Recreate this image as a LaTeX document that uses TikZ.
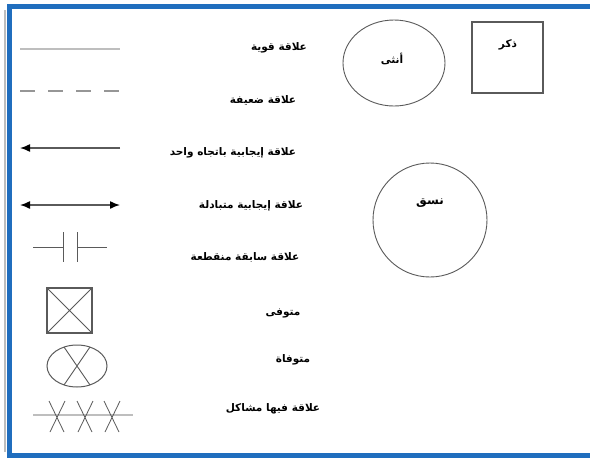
\documentclass[tikz,border=0pt]{standalone}
\usepackage{fontspec}
\newfontfamily\arabicfont[Script=Arabic]{DejaVu Sans}
\TeXXeTstate=1
\usetikzlibrary{arrows.meta}
\definecolor{framblue}{RGB}{32,110,190}
\definecolor{lightln}{RGB}{190,190,190}
\definecolor{midln}{RGB}{150,150,150}
\definecolor{darkln}{RGB}{90,90,90}
\tikzset{
  legendtxt/.style={inner sep=0pt, font=\arabicfont\bfseries\fontsize{10.5}{11}\selectfont},
  symtxt/.style={inner sep=0pt, font=\arabicfont\bfseries\fontsize{10.5}{11}\selectfont},
  symline/.style={draw=darkln, line width=1pt},
  tip/.tip={Latex[length=10pt,width=8pt,fill=black,color=black]},
  arrowln/.style={draw=darkln, line width=1.5pt},
}
\begin{document}
\begin{tikzpicture}[x=1pt,y=-1pt]
\useasboundingbox (0,0) rectangle (590,459);
% page frame
\fill[white] (0,0) rectangle (590,459);
\draw[lightln, line width=1.5pt] (5,10) -- (5,452);
\draw[framblue, line width=5pt] (595,6.5) -- (9.5,6.5) -- (9.5,455.5) -- (595,455.5);

% strong relation
\coordinate (s1) at (20,49); \coordinate (s2) at (120,49);
\draw[lightln, line width=2pt] (s1) -- (s2);
\node[legendtxt] (tstrong) at (279,48) {\beginR علاقة قوية\endR};

% weak relation
\coordinate (w1) at (20,91); \coordinate (w2) at (120,91);
\draw[midln, line width=2pt, dash pattern=on 15pt off 13pt] (w1) -- (w2);
\node[legendtxt] (tweak) at (263,100) {\beginR علاقة ضعيفة\endR};

% one-way positive relation
\coordinate (o1) at (120,148); \coordinate (o2) at (20,148);
\draw[arrowln, -tip] (o1) -- (o2);
\node[legendtxt] (toneway) at (233,153) {\beginR علاقة إيجابية باتجاه واحد\endR};

% mutual positive relation
\coordinate (m1) at (20,205); \coordinate (m2) at (120,205);
\draw[arrowln, tip-tip] (m1) -- (m2);
\node[legendtxt] (tmutual) at (251,206) {\beginR علاقة إيجابية متبادلة\endR};

% broken former relation
\coordinate (b1) at (33,247); \coordinate (b2) at (63,247);
\coordinate (b3) at (77,247); \coordinate (b4) at (107,247);
\draw[symline] (b1) -- (b2) (b2) ++(0,-15) -- ++(0,30)
  (b3) ++(0,-15) -- ++(0,30) (b3) -- (b4);
\node[legendtxt] (tbroken) at (245,257) {\beginR علاقة سابقة منقطعة\endR};

% deceased male
\node[draw=darkln, line width=1.3pt, minimum size=45pt, inner sep=0pt] (dm) at (69.5,310.5) {};
\draw[darkln, line width=0.9pt] (dm.north west) -- (dm.south east) (dm.north east) -- (dm.south west);
\node[legendtxt] (tdm) at (283,313) {\beginR متوفى\endR};

% deceased female
\draw[darkln, line width=1pt] (77,366) ellipse [x radius=30, y radius=21];
\coordinate (x1) at (64,347); \coordinate (x2) at (90,385);
\coordinate (x3) at (90,347); \coordinate (x4) at (64,385);
\draw[darkln, line width=0.9pt] (x1) -- (x2) (x3) -- (x4);
\node[legendtxt] (tdf) at (293,360) {\beginR متوفاة\endR};

% troubled relation
\coordinate (p1) at (33,415); \coordinate (p2) at (133,415);
\draw[lightln, line width=2pt] (p1) -- (p2);
\foreach \cx in {57,85,112} {
  \draw[darkln, line width=0.8pt] (\cx-8,401) -- (\cx+7,432) (\cx+8,401) -- (\cx-7,432);
}
\node[legendtxt] (ttrouble) at (273,409) {\beginR علاقة فيها مشاكل\endR};

% female, male and system symbols
\draw[darkln, line width=0.9pt] (394,63) ellipse [x radius=51, y radius=43];
\node[symtxt] (female) at (392,59) {\beginR أنثى\endR};
\node[draw=darkln, line width=1.3pt, minimum size=71pt, inner sep=0pt] (malebox) at (507.5,57.5) {};
\node[symtxt] (male) at (508,45) {\beginR ذكر\endR};
\draw[darkln, line width=0.9pt] (430,220) circle [radius=57];
\node[symtxt, font=\arabicfont\bfseries\fontsize{12}{13}\selectfont] (system) at (430,203) {\beginR نسق\endR};
\end{tikzpicture}
\end{document}
